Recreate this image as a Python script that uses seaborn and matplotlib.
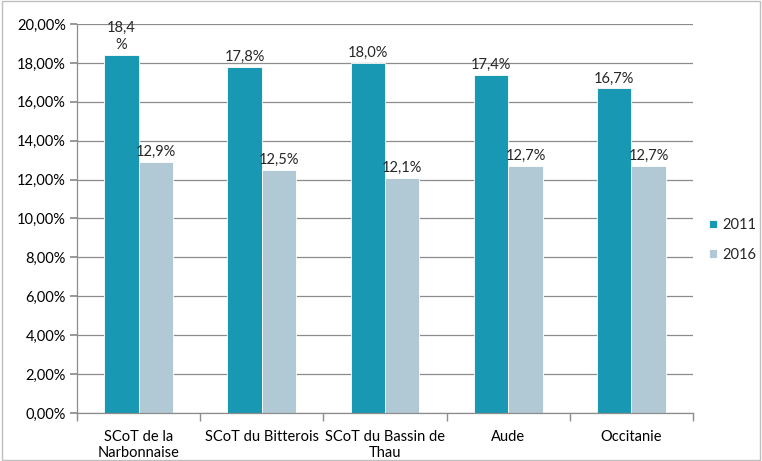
import matplotlib
matplotlib.use("Agg")
import matplotlib.pyplot as plt
import seaborn as sns
import pandas as pd
import numpy as np
from matplotlib.patches import Rectangle
from matplotlib.ticker import FuncFormatter

categories = ["SCoT de la\nNarbonnaise", "SCoT du Bitterois", "SCoT du Bassin de\nThau", "Aude", "Occitanie"]
years = ["2011", "2016"]
values_2011 = [18.4, 17.8, 18.0, 17.4, 16.7]
values_2016 = [12.9, 12.5, 12.1, 12.7, 12.7]
labels_2011 = ["18,4\n%", "17,8%", "18,0%", "17,4%", "16,7%"]
labels_2016 = ["12,9%", "12,5%", "12,1%", "12,7%", "12,7%"]

df = pd.DataFrame({
    "cat": categories * 2,
    "year": [years[0]] * 5 + [years[1]] * 5,
    "val": values_2011 + values_2016,
})

sns.set_theme(style="white")
plt.rcParams["font.family"] = ["Lato", "DejaVu Sans"]

fig = plt.figure(figsize=(7.62, 4.61), dpi=100)
ax = fig.add_axes([77/762, 1-413/461, (693-77)/762, (413-24)/461])

palette = {"2011": "#1898B2", "2016": "#B0C9D4"}
sns.barplot(data=df, x="cat", y="val", hue="year", palette=palette, width=0.56,
            saturation=1, edgecolor="white", linewidth=0.6, ax=ax, legend=True)

ax.set_ylim(0, 20)
ax.set_xlim(-0.5, 4.5)
ax.set_yticks(np.arange(0, 20.01, 2))
ax.yaxis.set_major_formatter(FuncFormatter(lambda v, p: f"{v:.2f}".replace(".", ",") + "%"))
ax.yaxis.grid(True, color="#8c8c8c", linewidth=0.9)
ax.set_axisbelow(True)
for s in ["top", "right"]:
    ax.spines[s].set_visible(False)
for s in ["left", "bottom"]:
    ax.spines[s].set_color("#8c8c8c")
    ax.spines[s].set_linewidth(0.9)
ax.set_xlabel("")
ax.set_ylabel("")
ax.tick_params(axis="y", left=True, length=5, color="#8c8c8c", labelsize=10.5, pad=3, labelcolor="black")
ax.tick_params(axis="x", bottom=False, labelsize=10.5, pad=6, labelcolor="black")
ax.set_xticks(np.arange(-0.5, 5, 1), minor=True)
ax.tick_params(axis="x", which="minor", bottom=True, length=6, color="#8c8c8c")

# bar labels
conts = ax.containers
for cont, labs in zip(conts, [labels_2011, labels_2016]):
    for bar, lab in zip(cont, labs):
        x = bar.get_x() + bar.get_width() / 2
        h = bar.get_height()
        ax.annotate(lab, (x, h), xytext=(0, 2), textcoords="offset points",
                    ha="center", va="bottom", fontsize=10.5, linespacing=1.3)

leg = ax.legend(loc="center left", bbox_to_anchor=(1.004, 0.445), frameon=False,
                fontsize=10.5, handlelength=0.55, handleheight=0.55, handletextpad=0.4,
                labelspacing=1.05)

fig.patches.append(Rectangle((0.002, 0.002), 0.996, 0.996, transform=fig.transFigure,
                             fill=False, edgecolor="#bfbfbf", linewidth=1))

fig.savefig("out.png", dpi=100)
